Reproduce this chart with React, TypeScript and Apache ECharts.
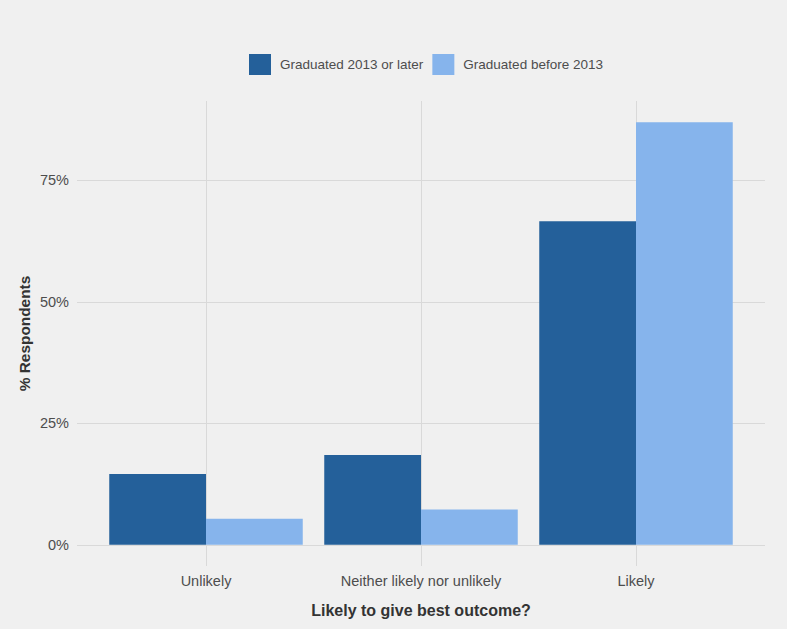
import React, { useEffect, useRef } from "react";
import * as echarts from "echarts";

const categories = ["Unlikely", "Neither likely nor unlikely", "Likely"];
const seriesNames = ["Graduated 2013 or later", "Graduated before 2013"];
const recentGrads = [14.6, 18.5, 66.6];
const earlierGrads = [5.4, 7.3, 87.0];
const yTicks = [0, 25, 50, 75];

const DARK = "#24609a";
const LIGHT = "#86b4ec";
const GRID = "#d9d9d9";
const FONT = "Liberation Sans, Arial, sans-serif";

export default function App() {
  const ref = useRef<HTMLDivElement>(null);
  useEffect(() => {
    if (!ref.current) return;
    const chart = echarts.init(ref.current, null, { renderer: "svg" });
    const yMax = 91.35;
    const yMinExp = -4.35;
    chart.setOption({
      animation: false,
      backgroundColor: "#f0f0f0",
      textStyle: { fontFamily: FONT },
      legend: {
        top: 54,
        left: 249,
        padding: 0,
        itemWidth: 22,
        itemHeight: 21,
        itemGap: 9,
        icon: "rect",
        data: seriesNames,
        textStyle: { fontSize: 13.5, color: "#4d4d4d", fontFamily: FONT, padding: [0, 0, 0, 4] },
      },
      grid: [
        { left: 77, right: 22, top: 101, bottom: 84, containLabel: false },
        { left: 98.5, right: 43.5, top: 101, bottom: 63, containLabel: false },
      ],
      xAxis: [
        { gridIndex: 0, type: "value", show: false, min: 0, max: 1 },
        {
          gridIndex: 1,
          type: "category",
          data: categories,
          axisLine: { show: false, onZero: false },
          axisTick: { show: true, alignWithLabel: true, inside: true, length: 465, lineStyle: { color: GRID, width: 1 } },
          axisLabel: { margin: 7, fontSize: 14.5, color: "#4d4d4d", fontFamily: FONT },
          splitLine: { show: false },
          name: "Likely to give best outcome?",
          nameLocation: "middle",
          nameGap: 36,
          nameTextStyle: { fontSize: 16, fontWeight: "bold", color: "#333333", fontFamily: FONT, verticalAlign: "top" },
        },
      ],
      yAxis: [
        {
          gridIndex: 0,
          type: "value",
          min: 0,
          max: yMax,
          interval: 25,
          axisLine: { show: false },
          axisTick: { show: false },
          axisLabel: {
            margin: 8,
            fontSize: 14.5,
            color: "#4d4d4d",
            fontFamily: FONT,
            showMaxLabel: false,
            formatter: (v: number) => (yTicks.includes(v) ? v + "%" : ""),
          },
          splitLine: { show: true, showMaxLine: false, lineStyle: { color: GRID, width: 1 } },
        },
        {
          gridIndex: 1,
          type: "value",
          min: yMinExp,
          max: yMax,
          axisLine: { show: false },
          axisTick: { show: false },
          axisLabel: { show: false },
          splitLine: { show: false },
          name: "% Respondents",
          nameLocation: "middle",
          nameGap: 67,
          nameTextStyle: { fontSize: 15.4, fontWeight: "bold", color: "#333333", fontFamily: FONT },
        },
      ],
      series: [
        {
          name: seriesNames[0],
          type: "bar",
          xAxisIndex: 1,
          yAxisIndex: 1,
          data: recentGrads,
          barGap: "0%",
          barCategoryGap: "10%",
          itemStyle: { color: DARK },
        },
        {
          name: seriesNames[1],
          type: "bar",
          xAxisIndex: 1,
          yAxisIndex: 1,
          data: earlierGrads,
          barGap: "0%",
          barCategoryGap: "10%",
          itemStyle: { color: LIGHT },
        },
      ],
    });
    return () => chart.dispose();
  }, []);
  return <div ref={ref} style={{ width: 787, height: 629, position: "absolute", left: 0, top: 0 }} />;
}
